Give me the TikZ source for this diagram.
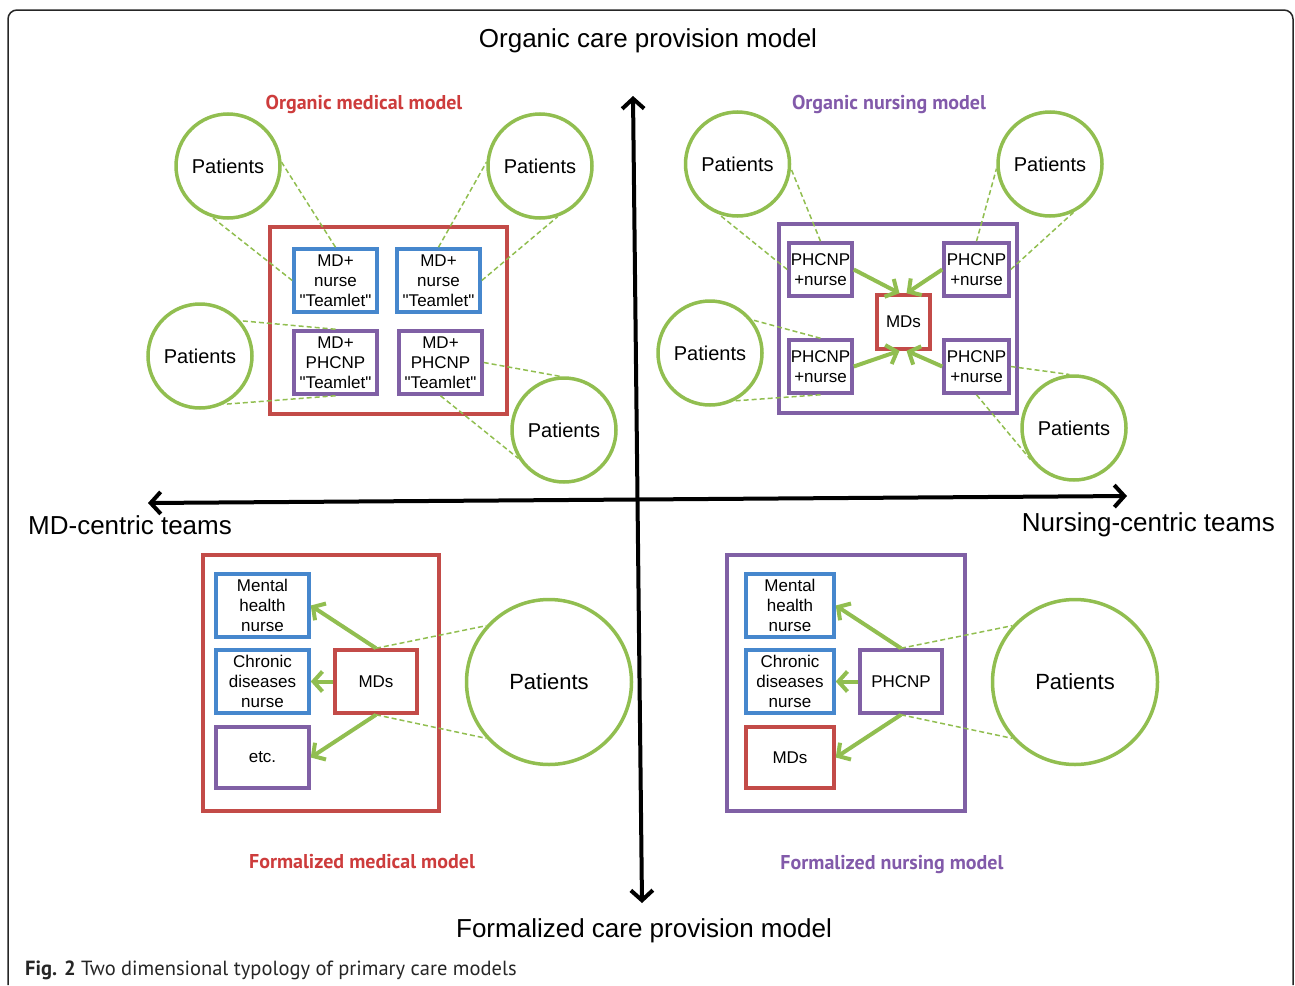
\documentclass[tikz,border=0pt]{standalone}
\usepackage{fontspec}
\setmainfont{Liberation Sans}
\newfontfamily\capfont{PT Sans}
\usetikzlibrary{arrows.meta}
\newcommand\sq{{\XeTeXglyph\XeTeXcharglyph"22\relax}}
\definecolor{grn}{RGB}{145,190,80}
\definecolor{blu}{RGB}{70,135,205}
\definecolor{rd}{RGB}{195,75,72}
\definecolor{pur}{RGB}{128,96,165}
\definecolor{lblrd}{RGB}{205,60,60}
\definecolor{lblpur}{RGB}{130,90,170}
\tikzset{
  pat/.style={circle,draw=grn,fill=white,line width=3.5pt,minimum size=104pt,inner sep=0pt,font=\fontsize{20}{24}\selectfont},
  patbig/.style={pat,minimum size=165pt,font=\fontsize{22}{26}\selectfont},
  tbox/.style={draw,fill=white,line width=3.5pt,inner sep=0pt,align=center,font=\fontsize{17}{20}\selectfont},
  bbox/.style={tbox,draw=blu},
  rbox/.style={tbox,draw=rd},
  pbox/.style={tbox,draw=pur},
  bigbox/.style={draw,line width=3.5pt,inner sep=0pt},
  dsh/.style={draw=grn,line width=1.5pt,dash pattern=on 5pt off 3pt},
  garr/.style={draw=grn,line width=4pt,-{Straight Barb[length=9pt,width=20pt]}},
  axis/.style={line width=4pt,{Straight Barb[length=10pt,width=22pt]}-{Straight Barb[length=10pt,width=22pt]}},
  ttl/.style={anchor=base,inner sep=0pt,font=\fontsize{26}{30}\selectfont},
  qlbl/.style={anchor=base,inner sep=0pt,font=\capfont\bfseries\fontsize{20}{23}\selectfont}
}
\begin{document}
\begin{tikzpicture}[x=1pt,y=-1pt]
\useasboundingbox (0,0) rectangle (1295,985);
% frame
\draw[line width=1.5pt,black!85,rounded corners=9pt] (8,985) -- (8,10) -- (1293,10) -- (1293,985);

% titles
\node[ttl] (ttop) at (648,47) {Organic care provision model};
\node[ttl] (tbot) at (644,937) {Formalized care provision model};
\node[ttl,anchor=base west] (tleft) at (28,534) {MD-centric teams};
\node[ttl,anchor=base east] (tright) at (1275,531) {Nursing-centric teams};

\node[qlbl,text=lblrd] (l1) at (364,109) {Organic medical model};
\node[qlbl,text=lblpur] (l2) at (889,109) {Organic nursing model};
\node[qlbl,text=lblrd] (l3) at (362,868) {Formalized medical model};
\node[qlbl,text=lblpur] (l4) at (892,869) {Formalized nursing model};

% axes
\coordinate (vt) at (633,96);
\coordinate (vb) at (642,903);
\coordinate (hl) at (148,503);
\coordinate (hr) at (1127,496);
\draw[axis] (vt) -- (vb);
\draw[axis] (hl) -- (hr);

% ---------- top-left: organic medical model
\node[bigbox,draw=rd,minimum width=237pt,minimum height=187pt] (tlbig) at (388.5,320.5) {};
\node[bbox,minimum width=83pt,minimum height=63pt] (tl1) at (335.5,280.5) {MD+\\nurse\\\sq Teamlet\sq};
\node[bbox,minimum width=83pt,minimum height=63pt] (tl2) at (438.5,280.5) {MD+\\nurse\\\sq Teamlet\sq};
\node[pbox,minimum width=83pt,minimum height=63pt] (tl3) at (335.5,362.5) {MD+\\PHCNP\\\sq Teamlet\sq};
\node[pbox,minimum width=83pt,minimum height=63pt] (tl4) at (440.5,362.5) {MD+\\PHCNP\\\sq Teamlet\sq};
\node[pat] (ctl1) at (228,166) {Patients};
\node[pat] (ctl2) at (540,166) {Patients};
\node[pat] (ctl3) at (200,356) {Patients};
\node[pat] (ctl4) at (564,430) {Patients};
\draw[dsh] (tl1.north) -- (ctl1.4);
\draw[dsh] (tl1.west) -- (ctl1.253);
\draw[dsh] (tl2.north) -- (ctl2.176);
\draw[dsh] (tl2.east) -- (ctl2.289);
\draw[dsh] (tl3.north) -- (ctl3.41);
\draw[dsh] (tl3.south) -- (ctl3.296);
\draw[dsh] (tl4.east) -- (ctl4.94);
\draw[dsh] (tl4.south) -- (ctl4.212);

% ---------- top-right: organic nursing model
\node[bigbox,draw=pur,minimum width=238pt,minimum height=189pt] (trbig) at (898,318.5) {};
\node[pbox,minimum width=63pt,minimum height=53pt] (tr1) at (820.5,269.5) {PHCNP\\+nurse};
\node[pbox,minimum width=65pt,minimum height=53pt] (tr2) at (976.5,269.5) {PHCNP\\+nurse};
\node[pbox,minimum width=63pt,minimum height=53pt] (tr3) at (820.5,366.5) {PHCNP\\+nurse};
\node[pbox,minimum width=65pt,minimum height=53pt] (tr4) at (976.5,366.5) {PHCNP\\+nurse};
\node[rbox,minimum width=53pt,minimum height=54pt] (trm) at (903.5,322) {MDs};
\node[pat] (ctr1) at (737.5,164) {Patients};
\node[pat] (ctr2) at (1050,164) {Patients};
\node[pat] (ctr3) at (710,353) {Patients};
\node[pat] (ctr4) at (1074,428) {Patients};
\draw[garr] (tr1.east) -- ([xshift=-4pt]trm.north);
\draw[garr] (tr2.west) -- ([xshift=3pt]trm.north);
\draw[garr] (tr3.east) -- ([xshift=-4pt]trm.south);
\draw[garr] (tr4.west) -- ([xshift=3pt]trm.south);
\draw[dsh] (tr1.north) -- (ctr1.355);
\draw[dsh] (tr1.west) -- (ctr1.250);
\draw[dsh] (tr2.north) -- (ctr2.185);
\draw[dsh] (tr2.east) -- (ctr2.296);
\draw[dsh] (tr3.north) -- (ctr3.38);
\draw[dsh] (tr3.south) -- (ctr3.297);
\draw[dsh] (tr4.east) -- (ctr4.95);
\draw[dsh] (tr4.south) -- (ctr4.216);

% ---------- bottom-left: formalized medical model
\node[bigbox,draw=rd,minimum width=236pt,minimum height=256pt] (blbig) at (321,683) {};
\node[bbox,minimum width=93pt,minimum height=63pt] (blm) at (262.5,605.5) {Mental\\health\\nurse};
\node[bbox,minimum width=93pt,minimum height=63pt] (blc) at (262.5,681.5) {Chronic\\diseases\\nurse};
\node[pbox,minimum width=93pt,minimum height=61pt] (ble) at (262.5,757.5) {etc.};
\node[rbox,minimum width=82pt,minimum height=63pt] (bld) at (376,681.5) {MDs};
\node[patbig] (cbl) at (549,682) {Patients};
\draw[garr] (bld.north) -- (blm.east);
\draw[garr] (bld.west) -- (blc.east);
\draw[garr] (bld.south) -- (ble.east);
\draw[dsh] (bld.north) -- (cbl.138);
\draw[dsh] (bld.south) -- (cbl.222);

% ---------- bottom-right: formalized nursing model
\node[bigbox,draw=pur,minimum width=238pt,minimum height=256pt] (brbig) at (846,683) {};
\node[bbox,minimum width=88pt,minimum height=63pt] (brm) at (790,605.5) {Mental\\health\\nurse};
\node[bbox,minimum width=88pt,minimum height=63pt] (brc) at (790,681.5) {Chronic\\diseases\\nurse};
\node[rbox,minimum width=88pt,minimum height=61pt] (brd) at (790,757.5) {MDs};
\node[pbox,minimum width=82pt,minimum height=63pt] (brp) at (901,681.5) {PHCNP};
\node[patbig] (cbr) at (1075,682) {Patients};
\draw[garr] (brp.north) -- (brm.east);
\draw[garr] (brp.west) -- (brc.east);
\draw[garr] (brp.south) -- (brd.east);
\draw[dsh] (brp.north) -- (cbr.138);
\draw[dsh] (brp.south) -- (cbr.222);

% caption
\node[anchor=base west,inner sep=0pt,text=black!85,font=\capfont\fontsize{20.5}{24}\selectfont] (cap) at (25,975) {\textbf{Fig. 2} Two dimensional typology of primary care models};
\end{tikzpicture}
\end{document}
